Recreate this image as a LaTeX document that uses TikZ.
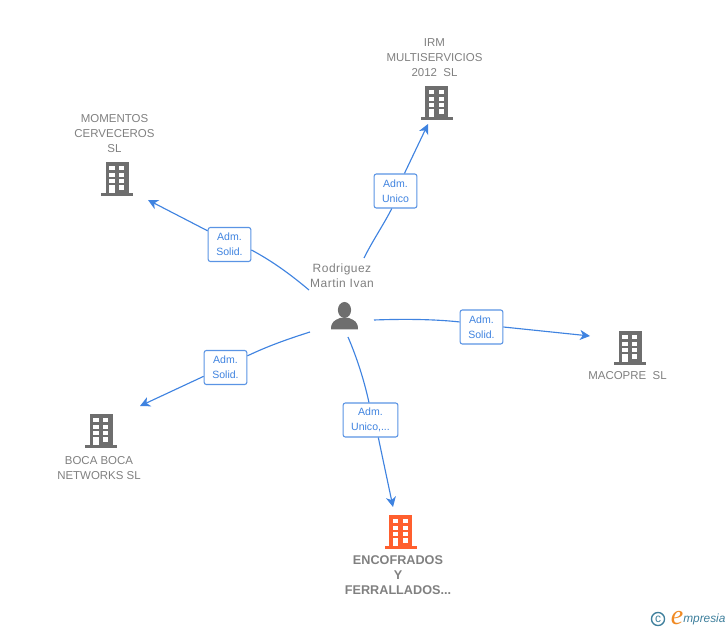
\documentclass[tikz,border=0pt]{standalone}
\usepackage{fontspec}
\setmainfont{Liberation Sans}
\newfontfamily\logofont{Liberation Serif}
\usetikzlibrary{arrows.meta}
\definecolor{linkblue}{HTML}{3F83E0}
\definecolor{boxedge}{HTML}{5A94E4}
\definecolor{iconGray}{HTML}{6E6E6E}
\definecolor{nameGray}{HTML}{808080}
\definecolor{iconOrange}{HTML}{FF5F2E}
\definecolor{logoTeal}{HTML}{3E7F9C}
\definecolor{logoOrange}{HTML}{F08A24}
\tikzset{
	rolebox/.style={draw=boxedge,fill=white,line width=0.8pt,rounded corners=1.6pt,inner sep=0pt,
		text=linkblue,align=center,font=\fontsize{7.9}{10.9}\selectfont,minimum height=25.5pt},
	namelabel/.style={text=nameGray,align=center,inner sep=0pt,font=\fontsize{8.6}{11.25}\selectfont},
	link/.style={draw=linkblue,line width=0.85pt},
	linkarrow/.style={link,-{Stealth[length=7.5pt,width=7.5pt,inset=2.2pt]}},
	pics/buildingicon/.style={code={
		\fill[#1] (-11.5,0) rectangle (11.5,31);
		\fill[#1] (-16,31) rectangle (16,34);
		\foreach \wy in {4,10.7,17}
			\foreach \wx in {-7.8,2}
				\fill[white] (\wx,\wy) rectangle ++(5.4,4);
		\fill[white] (-7.8,23) rectangle ++(5.4,8);
		\fill[white] (2,23) rectangle ++(5.4,5);
	}}
}
\begin{document}
\begin{tikzpicture}[x=0.75pt,y=-0.75pt]
	\useasboundingbox (0,0) rectangle (728,630);

	\pic (irmicon) at (436.5,86) {buildingicon=iconGray};
	\pic (momentosicon) at (117,162) {buildingicon=iconGray};
	\pic (macopreicon) at (630,331) {buildingicon=iconGray};
	\pic (bocaicon) at (101,414) {buildingicon=iconGray};
	\pic (encofradosicon) at (400.5,515) {buildingicon=iconOrange};

	\fill[iconGray] (344.5,310) ellipse (6.6 and 8);
	\fill[iconGray] (331,329.5) .. controls (331,322) and (334,320.5) .. (340,318) -- (349,318) .. controls (355,320.5) and (358,322) .. (358,329.5) -- cycle;

	\node[namelabel] (irmname) at (434.5,57.5) {IRM\\MULTISERVICIOS\\2012\ \ SL};
	\node[namelabel] (momentosname) at (114.5,133.5) {MOMENTOS\\CERVECEROS\\SL};
	\node[namelabel,font=\fontsize{9}{11.25}\selectfont\addfontfeature{LetterSpace=4}] (personname) at (342,275.5) {Rodriguez\\Martin Ivan};
	\node[namelabel] (macoprename) at (627.5,376) {MACOPRE\ \ SL};
	\node[namelabel] (bocaname) at (99,468) {BOCA BOCA\\NETWORKS SL};
	\node[namelabel,font=\fontsize{9.5}{11.25}\selectfont\bfseries] (encofradosname) at (398,575.5) {ENCOFRADOS\\Y\\FERRALLADOS...};

	\node[rolebox,minimum width=32pt] (boxirm) at (395.5,191) {Adm.\\Unico};
	\node[rolebox,minimum width=32pt] (boxmomentos) at (229.5,244.5) {Adm.\\Solid.};
	\node[rolebox,minimum width=32pt] (boxmacopre) at (481.5,327) {Adm.\\Solid.};
	\node[rolebox,minimum width=32pt] (boxboca) at (225.5,367.5) {Adm.\\Solid.};
	\node[rolebox,minimum width=41pt] (boxencofrados) at (370.5,420) {Adm.\\Unico,...};

	\coordinate (irmstart) at (364,258);
	\coordinate (irmtip) at (428,124);
	\coordinate (momentosstart) at (309,290);
	\coordinate (momentostip) at (148,200);
	\coordinate (macoprestart) at (374,320);
	\coordinate (macopretip) at (590,336);
	\coordinate (bocastart) at (310,332);
	\coordinate (bocatip) at (140,406);
	\coordinate (encofradosstart) at (348,337);
	\coordinate (encofradostip) at (393,507);

	\draw[link] (irmstart) .. controls (373,240) and (384,224) .. (boxirm.258);
	\draw[linkarrow] (boxirm.63) -- (irmtip);
	\draw[link] (momentosstart) .. controls (290,274) and (272,261) .. (boxmomentos.346);
	\draw[linkarrow] (boxmomentos.148) -- (momentostip);
	\draw[link] (macoprestart) .. controls (402,319) and (432,319) .. (boxmacopre.167);
	\draw[linkarrow] (boxmacopre.0) -- (macopretip);
	\draw[link] (bocastart) .. controls (288,339) and (268,346) .. (boxboca.28);
	\draw[linkarrow] (boxboca.202) -- (bocatip);
	\draw[link] (encofradosstart) .. controls (357,358) and (364,380) .. (boxencofrados.95);
	\draw[linkarrow] (boxencofrados.294) -- (encofradostip);

	\node[draw=logoTeal,line width=1pt,circle,inner sep=0pt,minimum size=9.8pt,text=logoTeal,font=\fontsize{9}{9}\selectfont] (logomark) at (658,619) {c};
	\node[text=logoOrange,inner sep=0pt,font=\logofont\itshape\fontsize{21}{21}\selectfont] (logoe) at (677,618) {e};
	\node[text=logoTeal,inner sep=0pt,anchor=west,font=\itshape\fontsize{8.9}{8.9}\selectfont] (logotext) at (683,619.5) {mpresia};
\end{tikzpicture}
\end{document}
